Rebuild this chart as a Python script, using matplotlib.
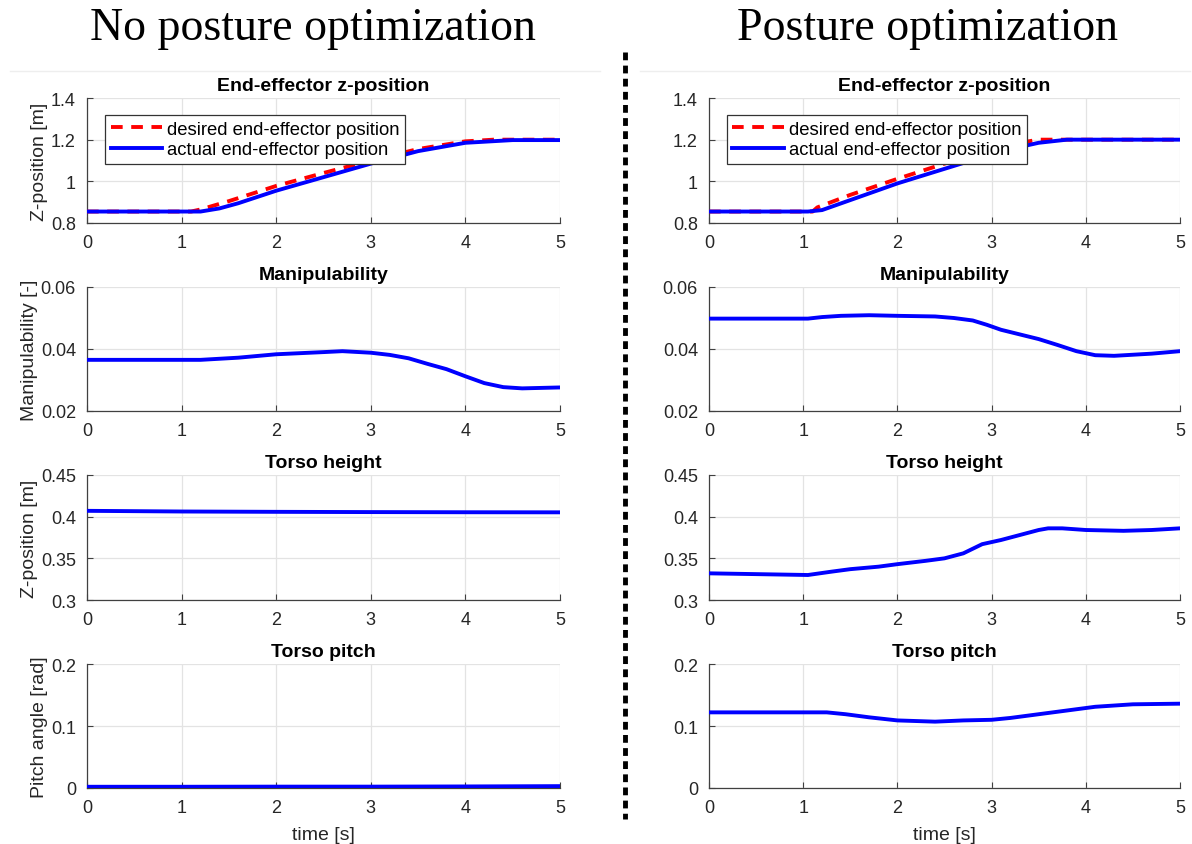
import matplotlib
matplotlib.use("Agg")
import matplotlib.pyplot as plt
from matplotlib.lines import Line2D

plt.rcParams['font.family'] = ['Liberation Sans', 'DejaVu Sans']

# ---------------- data ----------------
# Left column: no posture optimization
L_des_t = [0, 1.1, 1.2, 1.5, 2.0, 2.5, 3.0, 3.5, 4.0, 4.3, 5.0]
L_des_z = [0.855, 0.855, 0.865, 0.905, 0.978, 1.04, 1.10, 1.155, 1.192, 1.2, 1.2]
L_act_t = [0, 1.2, 1.4, 1.6, 2.0, 2.5, 3.0, 3.5, 4.0, 4.5, 5.0]
L_act_z = [0.855, 0.855, 0.87, 0.895, 0.955, 1.02, 1.085, 1.145, 1.185, 1.198, 1.198]

L_man_t = [0, 1.2, 1.6, 2.0, 2.5, 2.7, 3.0, 3.2, 3.4, 3.6, 3.8, 4.0, 4.2, 4.4, 4.6, 5.0]
L_man_v = [0.0365, 0.0365, 0.0372, 0.0383, 0.0390, 0.0393, 0.0388, 0.0381, 0.0370, 0.0352, 0.0335, 0.0312, 0.0290, 0.0277, 0.0273, 0.0276]

L_th_t = [0, 1, 2, 3, 4, 5]
L_th_v = [0.407, 0.4062, 0.4058, 0.4055, 0.4053, 0.4052]

L_tp_t = [0, 1, 2, 3, 4, 5]
L_tp_v = [0.002, 0.002, 0.0022, 0.0022, 0.0025, 0.003]

# Right column: posture optimization
R_des_t = [0, 1.1, 1.15, 1.5, 2.0, 2.5, 3.0, 3.3, 3.5, 5.0]
R_des_z = [0.855, 0.855, 0.875, 0.935, 1.012, 1.085, 1.15, 1.185, 1.2, 1.2]
R_act_t = [0, 1.05, 1.2, 1.5, 2.0, 2.5, 3.0, 3.3, 3.5, 3.8, 5.0]
R_act_z = [0.855, 0.855, 0.862, 0.91, 0.99, 1.06, 1.13, 1.165, 1.185, 1.2, 1.2]

R_man_t = [0, 1.05, 1.2, 1.4, 1.7, 2.0, 2.4, 2.6, 2.8, 2.95, 3.1, 3.3, 3.5, 3.7, 3.9, 4.1, 4.3, 4.7, 5.0]
R_man_v = [0.0498, 0.0498, 0.0503, 0.0507, 0.0509, 0.0507, 0.0505, 0.0500, 0.0492, 0.0478, 0.0462, 0.0447, 0.0432, 0.0413, 0.0393, 0.0380, 0.0378, 0.0385, 0.0393]

R_th_t = [0, 1.05, 1.3, 1.5, 1.8, 2.0, 2.3, 2.5, 2.7, 2.9, 3.1, 3.3, 3.5, 3.6, 3.75, 4.0, 4.4, 4.7, 5.0]
R_th_v = [0.332, 0.330, 0.334, 0.337, 0.340, 0.343, 0.347, 0.350, 0.356, 0.367, 0.372, 0.378, 0.384, 0.386, 0.386, 0.384, 0.383, 0.384, 0.386]

R_tp_t = [0, 1.25, 1.45, 1.7, 2.0, 2.4, 2.7, 3.0, 3.2, 3.4, 3.6, 3.8, 4.1, 4.5, 5.0]
R_tp_v = [0.122, 0.122, 0.119, 0.114, 0.109, 0.107, 0.109, 0.110, 0.113, 0.117, 0.121, 0.125, 0.131, 0.135, 0.136]

titles = ["End-effector z-position", "Manipulability", "Torso height", "Torso pitch"]
ylabels = ["Z-position [m]", "Manipulability [-]", "Z-position [m]", "Pitch angle [rad]"]
ylims = [(0.8, 1.4), (0.02, 0.06), (0.3, 0.45), (0.0, 0.2)]
yticks = [[0.8, 1.0, 1.2, 1.4], [0.02, 0.04, 0.06], [0.3, 0.35, 0.4, 0.45], [0, 0.1, 0.2]]
yticklabels = [["0.8", "1", "1.2", "1.4"], ["0.02", "0.04", "0.06"],
               ["0.3", "0.35", "0.4", "0.45"], ["0", "0.1", "0.2"]]
xticks = [0, 1, 2, 3, 4, 5]
col_titles = ["No posture optimization", "Posture optimization"]
legend_labels = ["desired end-effector position", "actual end-effector position"]

# ---------------- figure ----------------
W, H = 1192, 845
fig = plt.figure(figsize=(W / 100, H / 100), dpi=100)

col_x = [(87, 560), (709, 1180)]
row_y = [(99, 224), (288, 412), (476, 601), (665, 789)]

series = [
    [None, (L_man_t, L_man_v), (L_th_t, L_th_v), (L_tp_t, L_tp_v)],
    [None, (R_man_t, R_man_v), (R_th_t, R_th_v), (R_tp_t, R_tp_v)],
]
top = [((L_des_t, L_des_z), (L_act_t, L_act_z)), ((R_des_t, R_des_z), (R_act_t, R_act_z))]

blue = "#0000ff"
red = "#ff0000"
axcol = "#404040"

for c in range(2):
    x0, x1 = col_x[c]
    for r in range(4):
        y0, y1 = row_y[r]
        ax = fig.add_axes([x0 / W, 1 - y1 / H, (x1 - x0) / W, (y1 - y0) / H])
        if r == 0:
            (dt, dz), (at, az) = top[c]
            ax.plot(dt, dz, color=red, lw=2.8, dashes=(3, 2.2), label=legend_labels[0], zorder=3)
            ax.plot(at, az, color=blue, lw=2.8, label=legend_labels[1], zorder=4)
            leg = ax.legend(loc="upper left", bbox_to_anchor=(0.038, 0.862), fontsize=13.3,
                            frameon=True, fancybox=False, edgecolor="#333333",
                            handlelength=2.8, handletextpad=0.25, borderpad=0.3,
                            labelspacing=0.2, borderaxespad=0, framealpha=1)
            leg.get_frame().set_linewidth(0.9)
        else:
            t, v = series[c][r]
            ax.plot(t, v, color=blue, lw=2.8, zorder=4)
        ax.set_xlim(0, 5)
        ax.set_ylim(*ylims[r])
        ax.set_xticks(xticks)
        ax.set_xticklabels([str(x) for x in xticks])
        ax.set_yticks(yticks[r])
        ax.set_yticklabels(yticklabels[r])
        ax.grid(True, color="#e3e3e3", lw=0.9)
        ax.set_axisbelow(True)
        for s in ["top", "right"]:
            ax.spines[s].set_visible(False)
        for s in ["left", "bottom"]:
            ax.spines[s].set_color(axcol)
            ax.spines[s].set_linewidth(0.9)
        ax.tick_params(direction="in", length=4, width=0.8, colors=axcol,
                       labelsize=13, labelcolor="#262626", pad=8)
        ax.set_title(titles[r], fontsize=14, fontweight="bold", pad=6)
        if c == 0:
            ax.set_ylabel(ylabels[r], fontsize=14, color="#262626", labelpad=2)
        if r == 3:
            ax.set_xlabel("time [s]", fontsize=14, color="#262626", labelpad=7)

# column headings
serif = ['Liberation Serif', 'DejaVu Serif']
fig.text(313 / W, 1 - 29 / H, col_titles[0], ha="center", va="center",
         fontsize=33, family=serif)
fig.text(928 / W, 1 - 29 / H, col_titles[1], ha="center", va="center",
         fontsize=33, family=serif)

# faint separator and dotted divider
fig.add_artist(Line2D([10 / W, 600 / W], [1 - 72 / H, 1 - 72 / H], color="#eeeeee", lw=1))
fig.add_artist(Line2D([640 / W, 1190 / W], [1 - 72 / H, 1 - 72 / H], color="#eeeeee", lw=1))
fig.add_artist(Line2D([625 / W, 625 / W], [1 - 53 / H, 1 - 820 / H], color="black", lw=3.5,
                      dashes=(1.6, 1.1)))

fig.savefig("out.png", dpi=100)
